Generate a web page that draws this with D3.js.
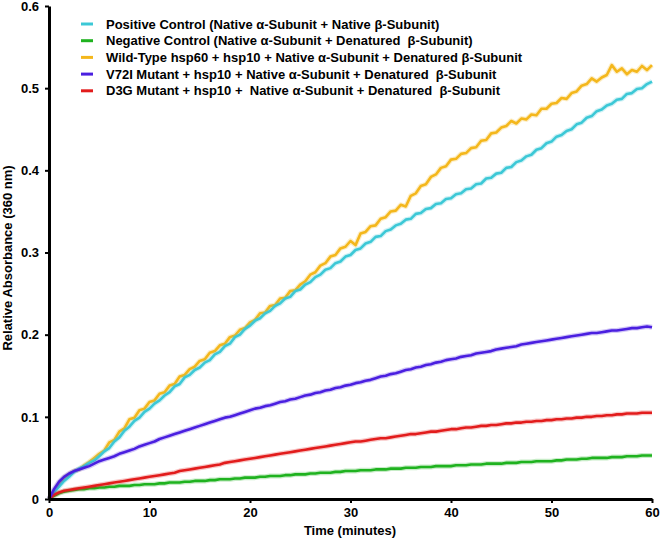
<!DOCTYPE html>
<html>
<head>
<meta charset="utf-8">
<script src="https://cdn.jsdelivr.net/npm/d3@7"></script>
<style>
  body { margin: 0; background: #fff; }
  svg { display: block; font-family: Arial, "Liberation Sans", sans-serif; font-weight: bold; }
  .axis path, .axis line { stroke: #000; }
  .axis text { font-size: 13px; font-weight: bold; fill: #000; }
  .legend text { font-size: 13px; white-space: pre; }
</style>
</head>
<body>
<div id="chart"></div>
<script>
// sampling times (minutes), every half minute
const minutes = [
  0, 0.5, 1, 1.5, 2, 2.5, 3, 3.5, 4, 4.5,
  5, 5.5, 6, 6.5, 7, 7.5, 8, 8.5, 9, 9.5,
  10, 10.5, 11, 11.5, 12, 12.5, 13, 13.5, 14, 14.5,
  15, 15.5, 16, 16.5, 17, 17.5, 18, 18.5, 19, 19.5,
  20, 20.5, 21, 21.5, 22, 22.5, 23, 23.5, 24, 24.5,
  25, 25.5, 26, 26.5, 27, 27.5, 28, 28.5, 29, 29.5,
  30, 30.5, 31, 31.5, 32, 32.5, 33, 33.5, 34, 34.5,
  35, 35.5, 36, 36.5, 37, 37.5, 38, 38.5, 39, 39.5,
  40, 40.5, 41, 41.5, 42, 42.5, 43, 43.5, 44, 44.5,
  45, 45.5, 46, 46.5, 47, 47.5, 48, 48.5, 49, 49.5,
  50, 50.5, 51, 51.5, 52, 52.5, 53, 53.5, 54, 54.5,
  55, 55.5, 56, 56.5, 57, 57.5, 58, 58.5, 59, 59.5, 60
];

const positiveControl = [
  0, 0.008, 0.015, 0.022, 0.027, 0.033, 0.037, 0.040, 0.044, 0.047,
  0.052, 0.058, 0.062, 0.070, 0.075, 0.083, 0.088, 0.095, 0.099, 0.106,
  0.110, 0.116, 0.120, 0.126, 0.130, 0.137, 0.140, 0.148, 0.151, 0.157,
  0.160, 0.166, 0.169, 0.176, 0.179, 0.186, 0.189, 0.197, 0.200, 0.207,
  0.211, 0.217, 0.220, 0.226, 0.229, 0.235, 0.238, 0.244, 0.246, 0.253,
  0.255, 0.261, 0.264, 0.270, 0.273, 0.279, 0.281, 0.287, 0.289, 0.295,
  0.297, 0.303, 0.305, 0.311, 0.313, 0.319, 0.320, 0.326, 0.328, 0.333,
  0.335, 0.340, 0.341, 0.347, 0.348, 0.353, 0.354, 0.359, 0.360, 0.365,
  0.366, 0.371, 0.372, 0.377, 0.378, 0.383, 0.384, 0.390, 0.391, 0.396,
  0.397, 0.403, 0.404, 0.410, 0.412, 0.417, 0.419, 0.425, 0.427, 0.433,
  0.435, 0.441, 0.443, 0.448, 0.450, 0.456, 0.458, 0.464, 0.466, 0.472,
  0.474, 0.479, 0.481, 0.486, 0.487, 0.493, 0.494, 0.499, 0.500, 0.505, 0.508
];

const negativeControl = [
  0, 0.004, 0.007, 0.009, 0.010, 0.011, 0.012, 0.012, 0.013, 0.013,
  0.014, 0.014, 0.015, 0.015, 0.016, 0.016, 0.016, 0.017, 0.017, 0.018,
  0.018, 0.018, 0.019, 0.019, 0.020, 0.020, 0.020, 0.021, 0.021, 0.022,
  0.022, 0.022, 0.023, 0.023, 0.024, 0.024, 0.024, 0.025, 0.025, 0.026,
  0.026, 0.026, 0.027, 0.027, 0.028, 0.028, 0.028, 0.029, 0.029, 0.030,
  0.030, 0.030, 0.031, 0.031, 0.032, 0.032, 0.032, 0.033, 0.033, 0.034,
  0.034, 0.034, 0.035, 0.035, 0.035, 0.036, 0.036, 0.036, 0.037, 0.037,
  0.037, 0.038, 0.038, 0.038, 0.039, 0.039, 0.039, 0.040, 0.040, 0.040,
  0.040, 0.041, 0.041, 0.041, 0.042, 0.042, 0.042, 0.043, 0.043, 0.043,
  0.043, 0.044, 0.044, 0.044, 0.045, 0.045, 0.045, 0.046, 0.046, 0.046,
  0.046, 0.047, 0.047, 0.048, 0.048, 0.048, 0.049, 0.049, 0.050, 0.050,
  0.050, 0.050, 0.051, 0.051, 0.051, 0.052, 0.052, 0.052, 0.053, 0.053, 0.053
];

const wildType = [
  0, 0.010, 0.019, 0.026, 0.030, 0.034, 0.036, 0.041, 0.045, 0.050,
  0.055, 0.059, 0.069, 0.072, 0.082, 0.086, 0.097, 0.099, 0.108, 0.110,
  0.118, 0.120, 0.128, 0.130, 0.138, 0.140, 0.149, 0.151, 0.158, 0.161,
  0.168, 0.170, 0.178, 0.180, 0.187, 0.189, 0.197, 0.199, 0.206, 0.208,
  0.215, 0.218, 0.226, 0.227, 0.235, 0.236, 0.244, 0.245, 0.253, 0.254,
  0.261, 0.265, 0.273, 0.276, 0.284, 0.287, 0.295, 0.297, 0.305, 0.307,
  0.314, 0.309, 0.323, 0.325, 0.332, 0.333, 0.341, 0.343, 0.350, 0.351,
  0.358, 0.356, 0.369, 0.372, 0.381, 0.383, 0.392, 0.395, 0.403, 0.405,
  0.413, 0.414, 0.420, 0.421, 0.427, 0.428, 0.436, 0.437, 0.445, 0.446,
  0.452, 0.454, 0.460, 0.457, 0.463, 0.462, 0.468, 0.467, 0.475, 0.475,
  0.481, 0.482, 0.488, 0.487, 0.494, 0.496, 0.503, 0.505, 0.512, 0.508,
  0.513, 0.516, 0.528, 0.520, 0.524, 0.517, 0.522, 0.520, 0.527, 0.522, 0.528
];

const v72iMutant = [
  0, 0.012, 0.021, 0.027, 0.031, 0.034, 0.036, 0.038, 0.040, 0.043,
  0.046, 0.048, 0.050, 0.052, 0.055, 0.057, 0.059, 0.061, 0.064, 0.066,
  0.068, 0.070, 0.073, 0.075, 0.077, 0.079, 0.081, 0.083, 0.085, 0.087,
  0.089, 0.091, 0.093, 0.095, 0.097, 0.099, 0.100, 0.102, 0.104, 0.106,
  0.108, 0.110, 0.111, 0.113, 0.114, 0.116, 0.118, 0.119, 0.121, 0.122,
  0.124, 0.126, 0.127, 0.129, 0.130, 0.132, 0.133, 0.135, 0.136, 0.138,
  0.139, 0.141, 0.142, 0.144, 0.145, 0.147, 0.149, 0.150, 0.152, 0.153,
  0.155, 0.157, 0.158, 0.160, 0.161, 0.163, 0.164, 0.166, 0.167, 0.169,
  0.170, 0.171, 0.173, 0.174, 0.175, 0.177, 0.178, 0.179, 0.180, 0.182,
  0.183, 0.184, 0.185, 0.186, 0.188, 0.189, 0.190, 0.191, 0.192, 0.193,
  0.194, 0.195, 0.196, 0.197, 0.198, 0.199, 0.200, 0.201, 0.202, 0.202,
  0.203, 0.204, 0.205, 0.205, 0.206, 0.207, 0.208, 0.208, 0.209, 0.210, 0.209
];

const d3gMutant = [
  0, 0.005, 0.008, 0.010, 0.011, 0.012, 0.013, 0.014, 0.015, 0.016,
  0.017, 0.018, 0.019, 0.020, 0.021, 0.022, 0.023, 0.024, 0.025, 0.026,
  0.027, 0.028, 0.029, 0.030, 0.031, 0.032, 0.034, 0.035, 0.036, 0.037,
  0.038, 0.039, 0.040, 0.041, 0.042, 0.044, 0.045, 0.046, 0.047, 0.048,
  0.049, 0.050, 0.051, 0.052, 0.053, 0.054, 0.055, 0.056, 0.057, 0.058,
  0.059, 0.060, 0.061, 0.062, 0.063, 0.064, 0.065, 0.066, 0.067, 0.068,
  0.069, 0.070, 0.070, 0.071, 0.072, 0.073, 0.074, 0.074, 0.075, 0.076,
  0.077, 0.078, 0.079, 0.079, 0.080, 0.081, 0.082, 0.082, 0.083, 0.084,
  0.085, 0.085, 0.086, 0.087, 0.087, 0.088, 0.089, 0.089, 0.090, 0.090,
  0.091, 0.092, 0.092, 0.093, 0.093, 0.094, 0.094, 0.095, 0.095, 0.096,
  0.096, 0.097, 0.097, 0.098, 0.098, 0.099, 0.099, 0.100, 0.100, 0.101,
  0.101, 0.102, 0.102, 0.103, 0.103, 0.104, 0.104, 0.104, 0.105, 0.105, 0.105
];

const legendLabels = [
  "Positive Control (Native \u03b1-Subunit + Native \u03b2-Subunit)",
  "Negative Control (Native \u03b1-Subunit + Denatured  \u03b2-Subunit)",
  "Wild-Type hsp60 + hsp10 + Native \u03b1-Subunit + Denatured \u03b2-Subunit",
  "V72I Mutant + hsp10 + Native \u03b1-Subunit + Denatured  \u03b2-Subunit",
  "D3G Mutant + hsp10 +  Native \u03b1-Subunit + Denatured  \u03b2-Subunit"
];
const seriesColors = ["#3cc8d6", "#1fb21f", "#f4b71c", "#4a1fe0", "#e21c1c"];
const seriesValues = [positiveControl, negativeControl, wildType, v72iMutant, d3gMutant];
const xTicks = [0, 10, 20, 30, 40, 50, 60];
const yTicks = [0, 0.1, 0.2, 0.3, 0.4, 0.5, 0.6];

const W = 662, H = 538;
const margin = { top: 6, right: 10, bottom: 39, left: 49 };

const svg = d3.select("#chart").append("svg")
    .attr("width", W)
    .attr("height", H);

const x = d3.scaleLinear().domain([0, 60]).range([margin.left, W - margin.right]);
const y = d3.scaleLinear().domain([0, 0.6]).range([H - margin.bottom, margin.top]);

// lines first so the axes sit over them
const line = d3.line()
    .x((d, i) => x(minutes[i]))
    .y(d => y(d));

// draw order: yellow under cyan, then the slow ones
const drawOrder = [2, 0, 1, 4, 3];

const lines = svg.append("g");
drawOrder.forEach(k => {
  // soft halo, the original looks a bit blurred
  lines.append("path")
      .datum(seriesValues[k])
      .attr("fill", "none")
      .attr("stroke", seriesColors[k])
      .attr("stroke-opacity", 0.25)
      .attr("stroke-width", 5)
      .attr("stroke-linejoin", "round")
      .attr("d", line);
  lines.append("path")
      .datum(seriesValues[k])
      .attr("fill", "none")
      .attr("stroke", seriesColors[k])
      .attr("stroke-width", 2.6)
      .attr("stroke-linejoin", "round")
      .attr("d", line);
});

const xAxis = svg.append("g")
    .attr("class", "axis")
    .attr("transform", `translate(0,${y(0)})`)
    .call(d3.axisBottom(x).tickValues(xTicks).tickSize(4).tickSizeOuter(0).tickPadding(5));
xAxis.select(".domain").attr("stroke-width", 3);
xAxis.selectAll(".tick line").attr("stroke-width", 2);

const yAxis = svg.append("g")
    .attr("class", "axis")
    .attr("transform", `translate(${x(0)},0)`)
    .call(d3.axisLeft(y).tickValues(yTicks).tickSize(4).tickSizeOuter(0).tickPadding(6)
      .tickFormat(d => d === 0 ? "0" : d3.format(".1f")(d)));
yAxis.select(".domain").attr("stroke-width", 3);
yAxis.selectAll(".tick line").attr("stroke-width", 2);

svg.append("text")
    .attr("x", 350)
    .attr("y", 535)
    .attr("text-anchor", "middle")
    .style("font-size", "13px")
    .text("Time (minutes)");

svg.append("text")
    .attr("transform", "translate(12,258) rotate(-90)")
    .attr("text-anchor", "middle")
    .style("font-size", "13px")
    .text("Relative Absorbance (360 nm)");

// legend
const legend = svg.append("g").attr("class", "legend");
const row = legend.selectAll("g")
    .data(legendLabels)
    .enter().append("g")
    .attr("transform", (d, i) => `translate(81,${24 + i * 16.7})`);

row.append("line")
    .attr("x2", 12)
    .attr("stroke", (d, i) => seriesColors[i])
    .attr("stroke-width", 3);

row.append("text")
    .attr("x", 25)
    .attr("dy", "0.35em")
    .text(d => d);
</script>
</body>
</html>
